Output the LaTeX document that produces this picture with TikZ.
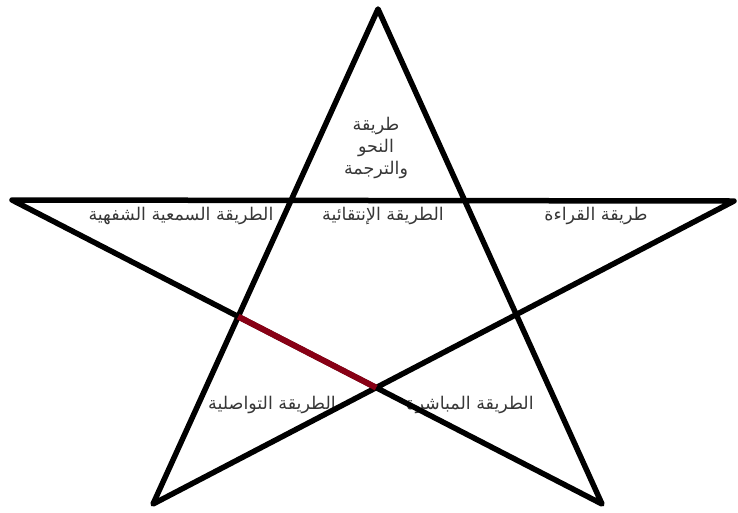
\documentclass[tikz,border=0pt]{standalone}
\usepackage{fontspec}
\newfontfamily\arabicfont[Script=Arabic]{DejaVu Sans}
\TeXXeTstate=1
\usetikzlibrary{calc}
\definecolor{darkred}{RGB}{136,0,21}
\definecolor{labelgray}{RGB}{55,55,55}
\newcommand{\rtltext}[1]{\beginR #1\endR}

\begin{document}
\begin{tikzpicture}[x=1pt,y=-1pt,
    starline/.style={line width=5.5pt, line join=round, line cap=round},
    method/.style={font=\arabicfont\fontsize{17.5}{22}\selectfont, text=labelgray,
                   inner sep=1pt, align=center}]
  \useasboundingbox (0,0) rectangle (738,512);

  % star points
  \coordinate (top) at (378,9);
  \coordinate (left) at (12,200);
  \coordinate (right) at (734,201);
  \coordinate (botleft) at (153,504);
  \coordinate (botright) at (602,504);

  % labels
  \node[method] (nahw) at (376,148)
    {\rtltext{طريقة}\\\rtltext{النحو}\\\rtltext{والترجمة}};
  \node[method] (samie) at (181,216) {\rtltext{الطريقة السمعية الشفهية}};
  \node[method] (intiqai) at (383,216) {\rtltext{الطريقة الإنتقائية}};
  \node[method] (qiraa) at (596,216) {\rtltext{طريقة القراءة}};
  \node[method] (tawasul) at (272,405) {\rtltext{الطريقة التواصلية}};
  \node[method] (mubashira) at (470,405) {\rtltext{الطريقة المباشرة}};

  % the star
  \draw[starline] (top) -- (botleft) -- (right) -- (left) -- (botright) -- cycle;

  % marked edge of the inner pentagon
  \coordinate (inA) at (intersection of left--botright and top--botleft);
  \coordinate (inB) at (intersection of left--botright and right--botleft);
  \draw[starline, darkred, line width=6pt, line cap=butt] (inA) -- (inB);
\end{tikzpicture}
\end{document}
